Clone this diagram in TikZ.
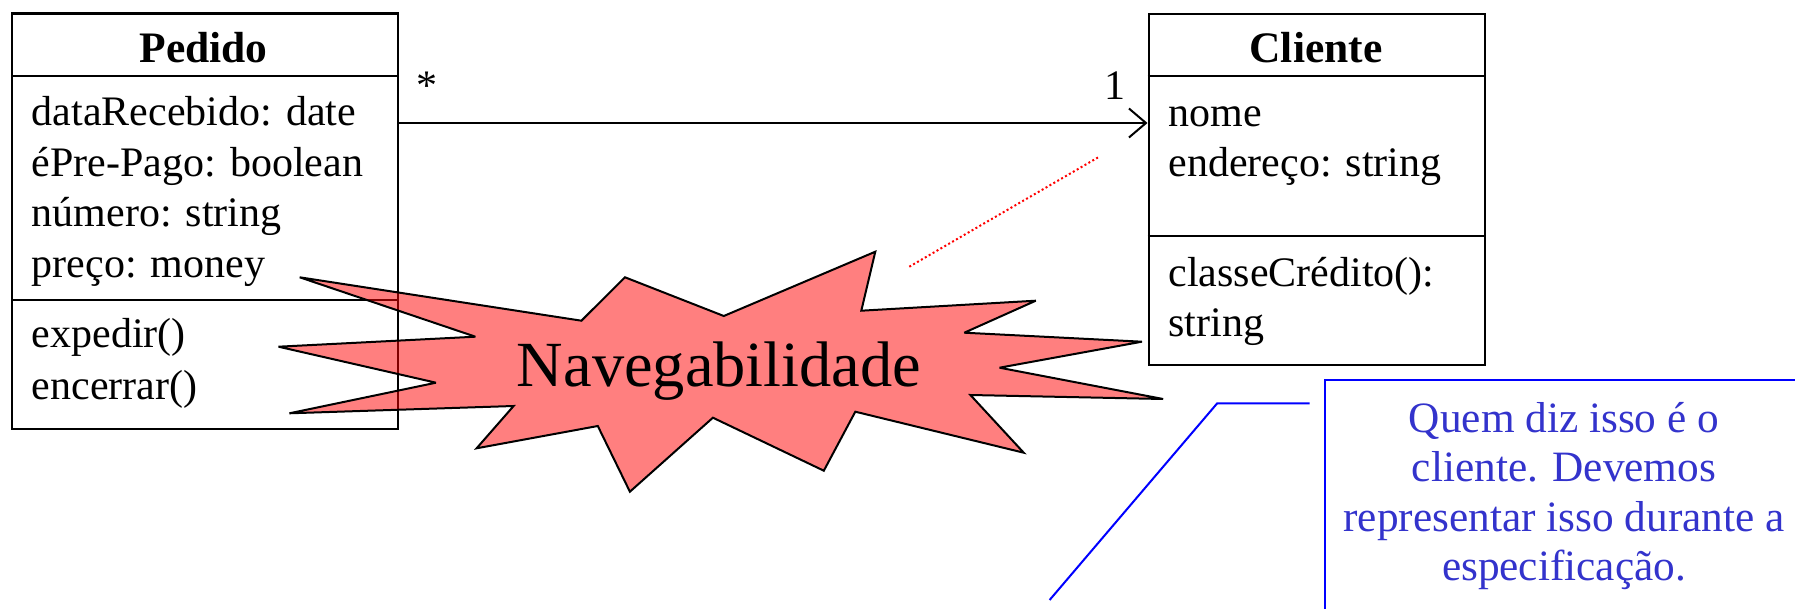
\documentclass[tikz,border=0pt]{standalone}
\usepackage{fontspec}
\setmainfont{Liberation Serif}
\usetikzlibrary{positioning,arrows.meta}
\definecolor{notetext}{RGB}{51,51,204}

\begin{document}
\begin{tikzpicture}[
  x=1pt, y=-1pt,
  classbox/.style={draw, line width=2.2pt, inner sep=0pt, anchor=north west},
  sep/.style={line width=2.2pt},
  cname/.style={anchor=base, inner sep=0pt, font=\fontsize{43.5pt}{50pt}\selectfont\bfseries},
  member/.style={anchor=base west, inner sep=0pt, font=\fontsize{42pt}{50pt}\selectfont},
  mult/.style={anchor=base, inner sep=0pt, font=\fontsize{42pt}{50pt}\selectfont},
  assoc/.style={line width=2pt, -{Straight Barb[length=17pt, width=29pt]}},
  burst/.style={draw, line width=2pt, fill=red, fill opacity=0.5, miter limit=4},
  hint/.style={red, line width=2pt, dash pattern=on 2pt off 2.5pt},
  note/.style={blue, line width=2pt},
  notetxt/.style={align=center, inner sep=0pt, text=notetext, font=\fontsize{43.3pt}{49.5pt}\selectfont}
]
  \useasboundingbox (0,0) rectangle (1795,609);

  % Pedido
  \node[classbox, minimum width=385.5pt, minimum height=415pt] (pedido) at (11,12.5) {};
  \node[cname] (pedidoT) at (203.5,63) {Pedido};
  \draw[sep] (pedido.west |- 0,76) -- (pedido.east |- 0,76);
  \draw[sep] (pedido.west |- 0,300) -- (pedido.east |- 0,300);
  \node[member] (pa1) at (31.7,126) {dataRecebido: date};
  \node[member, below=50.5pt of pa1.base west, anchor=base west] (pa2) {éPre-Pago: boolean};
  \node[member, below=50.5pt of pa2.base west, anchor=base west] (pa3) {número: string};
  \node[member, below=50.5pt of pa3.base west, anchor=base west] (pa4) {preço: money};
  \node[member] (po1) at (31.7,348) {expedir()};
  \node[member, below=51pt of po1.base west, anchor=base west] (po2) {encerrar()};

  % Cliente
  \node[classbox, minimum width=336.5pt, minimum height=351pt] (cliente) at (1147.5,12.7) {};
  \node[cname] (clienteT) at (1316,63) {Cliente};
  \draw[sep] (cliente.west |- 0,76) -- (cliente.east |- 0,76);
  \draw[sep] (cliente.west |- 0,236) -- (cliente.east |- 0,236);
  \node[member] (ca1) at (1168.3,126.7) {nome};
  \node[member, below=50pt of ca1.base west, anchor=base west] (ca2) {endereço: string};
  \node[member] (co1) at (1168.3,286.7) {classeCrédito():};
  \node[member, below=50pt of co1.base west, anchor=base west] (co2) {string};

  % association
  \draw[assoc] (pedido.east |- 0,123) -- (cliente.west |- 0,123);
  \node[mult] (mPedido) at (427,100) {*};
  \node[mult] (mCliente) at (1115,100) {1};

  % burst
  \draw[burst] (299.7,277.3) -- (581.4,320.7) -- (625.0,277.3) -- (723.8,316)
    -- (875.3,251.7) -- (861.3,310.7) -- (1035.8,300.7) -- (964.3,332.7)
    -- (1141.9,341.7) -- (999.5,367.7) -- (1163.1,399) -- (970.4,395)
    -- (1023.7,452.7) -- (855.3,411.7) -- (823.8,470.7) -- (712.9,417.7)
    -- (629.9,491.7) -- (597.8,426) -- (476.6,448.3) -- (513.6,406)
    -- (289.4,413.3) -- (436,382.7) -- (278.5,346.7) -- (475.4,336.7) -- cycle;
  \node[anchor=base, inner sep=0pt, font=\fontsize{64.4pt}{70pt}\selectfont] (nav) at (719,386.7) {Navegabilidade};
  \coordinate (hintA) at (909.3,266.7);
  \coordinate (hintB) at (1099.3,156.7);
  \draw[hint] (hintA) -- (hintB);

  % note
  \draw[note] (1795,380) -- (1324.5,380) -- (1324.5,609);
  \coordinate (leadA) at (1309.6,403.3);
  \coordinate (leadB) at (1217.2,403.3);
  \coordinate (leadC) at (1049.6,600);
  \draw[note] (leadA) -- (leadB) -- (leadC);
  \node[notetxt, anchor=north] (noteT) at (1564,402) {Quem diz isso é o\\cliente. Devemos\\representar isso durante a\\especificação.};
\end{tikzpicture}
\end{document}
